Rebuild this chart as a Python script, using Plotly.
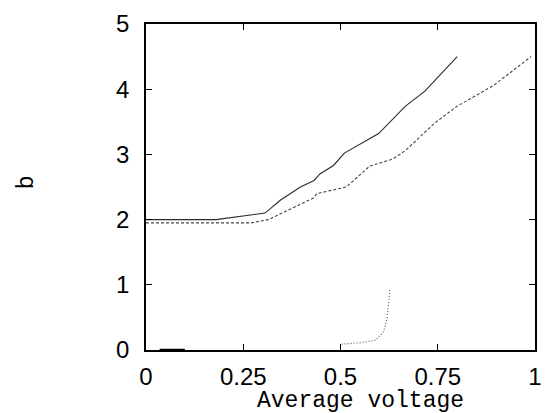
import plotly.graph_objects as go

# Data
solid_x = [0, 0.18, 0.306, 0.346, 0.397, 0.432, 0.447, 0.482, 0.51, 0.598, 0.667, 0.717, 0.80]
solid_y = [2.0, 2.0, 2.1, 2.3, 2.5, 2.6, 2.7, 2.83, 3.02, 3.32, 3.74, 3.97, 4.5]

dashed_x = [0, 0.27, 0.315, 0.43, 0.44, 0.515, 0.575, 0.635, 0.667, 0.742, 0.80, 0.894, 0.99]
dashed_y = [1.95, 1.95, 2.0, 2.33, 2.4, 2.5, 2.82, 2.93, 3.06, 3.48, 3.74, 4.06, 4.5]

dotted_x = [0.503, 0.55, 0.59, 0.611, 0.62, 0.624, 0.627]
dotted_y = [0.09, 0.11, 0.15, 0.28, 0.5, 0.76, 0.92]

base_x = [0.035, 0.1]
base_y = [0.0, 0.0]

x_ticks = [0, 0.25, 0.5, 0.75, 1]
x_tick_labels = ["0", "0.25", "0.5", "0.75", "1"]
y_ticks = [0, 1, 2, 3, 4, 5]

fig = go.Figure()
fig.add_trace(go.Scatter(x=solid_x, y=solid_y, mode="lines",
                         line=dict(color="#2a2a2a", width=1.1)))
fig.add_trace(go.Scatter(x=dashed_x, y=dashed_y, mode="lines",
                         line=dict(color="#444444", width=1.1, dash="3px,2px")))
fig.add_trace(go.Scatter(x=dotted_x, y=dotted_y, mode="lines",
                         line=dict(color="#555555", width=1.1, dash="1px,2px")))
fig.add_trace(go.Scatter(x=base_x, y=base_y, mode="lines",
                         line=dict(color="#000000", width=2.5), cliponaxis=False))

axis_common = dict(showgrid=False, zeroline=False, showline=True, linecolor="black",
                   linewidth=1.5, mirror="ticks", ticks="inside", ticklen=6,
                   tickcolor="black", tickwidth=1,
                   tickfont=dict(family="Liberation Sans, Arial", size=24, color="black"))

fig.update_xaxes(range=[0, 1], tickvals=x_ticks, ticktext=x_tick_labels,
                 ticklabelstandoff=4, **axis_common)
fig.update_yaxes(range=[0, 5], tickvals=y_ticks, ticklabelstandoff=10, **axis_common)

fig.add_annotation(text="Average voltage", xref="paper", yref="paper",
                   x=0.552, y=-0.156, showarrow=False, xanchor="center", yanchor="middle",
                   font=dict(family="Liberation Mono, Courier New, monospace", size=23, color="black"))
fig.add_annotation(text="b", xref="paper", yref="paper",
                   x=-0.3056, y=0.515, showarrow=False, textangle=-90,
                   xanchor="center", yanchor="middle",
                   font=dict(family="Liberation Mono, Courier New, monospace", size=23, color="black"))

fig.update_layout(width=552, height=413, showlegend=False,
                  margin=dict(l=146, r=10, t=20, b=63),
                  plot_bgcolor="white", paper_bgcolor="white")

fig.write_html("out.html", config={"displayModeBar": False},
               post_script="document.body.style.margin='0';")
